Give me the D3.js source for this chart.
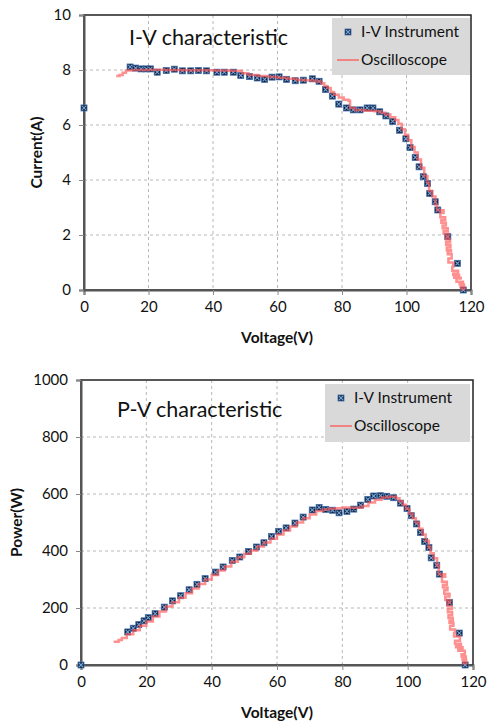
<!DOCTYPE html>
<html><head><meta charset="utf-8">
<script src="https://cdn.jsdelivr.net/npm/d3@7"></script>
<style>body{margin:0;background:#fff}svg{display:block;font-family:Lato,"Open Sans",sans-serif}</style>
</head><body><svg id="c" width="487" height="725"></svg>
<script>
// ---------- data ----------
const xTicks = [0, 20, 40, 60, 80, 100, 120];
const iTicks = [0, 2, 4, 6, 8, 10];
const pTicks = [0, 200, 400, 600, 800, 1000];

// I-V Instrument (markers)
const instV = [0, 14.3, 16.0, 17.7, 19.3, 20.6, 22.7, 25.5, 28.0, 30.5, 33.1, 35.5, 38.0, 41.2, 43.5, 46.3, 48.6, 51.3, 53.7, 56.0, 58.3, 60.5, 62.8, 65.5, 68.0, 70.8, 72.9, 74.9, 77.0, 79.0, 81.4, 83.5, 85.6, 87.8, 89.6, 91.7, 93.6, 95.7, 97.8, 99.8, 101.1, 102.7, 103.9, 105.2, 106.5, 107.2, 108.9, 109.7, 112.8, 115.8, 117.6];
const instI = [6.62, 8.11, 8.07, 8.04, 8.04, 8.04, 7.92, 7.98, 8.03, 7.97, 7.97, 7.98, 7.97, 7.92, 7.92, 7.92, 7.80, 7.76, 7.71, 7.66, 7.74, 7.75, 7.66, 7.61, 7.63, 7.68, 7.59, 7.29, 7.05, 6.76, 6.62, 6.55, 6.55, 6.62, 6.62, 6.48, 6.33, 6.13, 5.81, 5.50, 5.18, 4.82, 4.48, 4.12, 3.87, 3.51, 3.21, 2.91, 1.94, 0.97, 0.0];
const instP = [0, 116, 129, 142, 155, 166, 180, 203, 225, 243, 264, 283, 303, 326, 344, 367, 379, 398, 414, 429, 451, 469, 481, 498, 519, 544, 553, 546, 543, 534, 539, 547, 561, 581, 593, 594, 592, 587, 568, 549, 524, 495, 465, 433, 412, 376, 350, 319, 219, 112, 0];

// Oscilloscope (line), I-V
const oscV = [10, 11, 12, 13, 15, 20, 25, 30, 35, 40, 45, 48, 49, 51, 54, 57, 60, 63, 66, 69, 72, 73.5, 74.5, 75.5, 76.5, 77.5, 79, 80.5, 82, 82.5, 84, 87, 90, 92, 93.5, 95, 96.5, 97.5, 98.5, 99.5, 100.5, 101.5, 102.5, 103.5, 104.5, 105.5, 106.5, 107, 108, 109, 109.5, 111.5, 110.5, 112, 110.8, 112.2, 111.2, 112.8, 111.5, 113, 112.2, 113.5, 112.3, 113.6, 112.5, 113.8, 112.8, 114, 113, 114.5, 114.2, 116, 114.5, 116.3, 114.8, 116.8, 115.5, 117.5, 116.5, 117.8, 116.8, 117.9, 117, 118, 117.2, 118];
const oscI = [7.78, 7.82, 7.9, 7.98, 8.0, 8.01, 8.0, 7.99, 7.99, 7.98, 7.97, 7.96, 7.88, 7.82, 7.78, 7.75, 7.72, 7.68, 7.64, 7.62, 7.58, 7.52, 7.42, 7.35, 7.2, 7.1, 7.0, 6.92, 6.88, 6.62, 6.55, 6.52, 6.5, 6.45, 6.38, 6.28, 6.18, 6.05, 5.85, 5.65, 5.45, 5.2, 5.0, 4.75, 4.45, 4.15, 3.9, 3.6, 3.4, 3.1, 2.9, 2.8, 2.65, 2.55, 2.45, 2.35, 2.25, 2.15, 2.05, 1.95, 1.85, 1.75, 1.65, 1.55, 1.45, 1.4, 1.3, 1.15, 1.0, 0.85, 0.7, 0.6, 0.55, 0.5, 0.45, 0.42, 0.3, 0.25, 0.2, 0.15, 0.12, 0.1, 0.07, 0.05, 0.03, 0.02];
// Oscilloscope (line), P-V
const oscPV = [10, 11.5, 12.5, 14, 16, 18, 20, 22, 24, 26, 28, 30, 32, 34, 36, 38, 40, 42, 44, 46, 48, 50, 52, 54, 56, 58, 60, 62, 64, 66, 68, 70, 72, 74, 76, 78, 80, 82, 84, 86, 88, 90, 92, 94, 95.5, 96.5, 97.5, 98.5, 99.5, 100.5, 101.5, 102.5, 103.5, 104.5, 105.5, 106.5, 107, 108, 109, 109.5, 111.5, 110.5, 112, 110.8, 112.2, 111.2, 112.8, 111.5, 113, 112.2, 113.5, 112.3, 113.6, 112.5, 113.8, 112.8, 114, 113, 114.5, 114.2, 116, 114.5, 116.3, 114.8, 116.8, 115.5, 117.5, 116.5, 117.8, 116.8, 117.9, 117, 118, 117.2, 118];
const oscP = [82, 88, 95, 108, 122, 138, 153, 170, 188, 205, 220, 236, 252, 268, 284, 300, 316, 332, 346, 362, 378, 390, 402, 416, 430, 443, 458, 472, 486, 500, 515, 528, 540, 546, 548, 550, 553, 552, 552, 558, 570, 580, 588, 590, 590, 585, 575, 562, 548, 532, 515, 500, 478, 458, 436, 412, 392, 375, 350, 318, 310, 292, 282, 272, 262, 250, 240, 228, 218, 206, 196, 185, 175, 165, 155, 148, 138, 125, 112, 100, 85, 75, 68, 62, 55, 50, 38, 30, 24, 18, 14, 10, 7, 5, 3, 2];

const legendLabels = ["I-V Instrument", "Oscilloscope"];

// ---------- drawing ----------
const svg = d3.select("#c");
const LINE_COLOR = "rgba(255,85,85,0.65)";

function drawMarker(g, x, y) {
  const s = 3;
  const m = g.append("g").attr("transform", `translate(${x},${y})`);
  m.append("rect").attr("x", -s).attr("y", -s).attr("width", 2 * s).attr("height", 2 * s)
    .attr("fill", "#161c30").attr("stroke", "#3f6fb0").attr("stroke-width", 0.8);
  m.append("path").attr("d", `M${-s + 1},${-s + 1}L${s - 1},${s - 1}M${s - 1},${-s + 1}L${-s + 1},${s - 1}`)
    .attr("stroke", "#6fa8e0").attr("stroke-width", 1.1);
}

function drawChart(cfg) {
  const x = d3.scaleLinear().domain([0, 120]).range([cfg.left, cfg.right]);
  const y = d3.scaleLinear().domain(cfg.yDomain).range([cfg.bottom, cfg.top]);
  const g = svg.append("g");

  // grid
  g.append("g").selectAll("line").data(xTicks.slice(1, -1)).join("line")
    .attr("x1", d => x(d)).attr("x2", d => x(d)).attr("y1", cfg.top).attr("y2", cfg.bottom)
    .attr("stroke", "#b8b8b8").attr("stroke-dasharray", "3,3").attr("stroke-width", 1);
  g.append("g").selectAll("line").data(cfg.yTicks.slice(1, -1)).join("line")
    .attr("y1", d => y(d)).attr("y2", d => y(d)).attr("x1", cfg.left).attr("x2", cfg.right)
    .attr("stroke", "#b8b8b8").attr("stroke-dasharray", "3,3").attr("stroke-width", 1);

  // frame
  g.append("rect").attr("x", cfg.left).attr("y", cfg.top)
    .attr("width", cfg.right - cfg.left).attr("height", cfg.bottom - cfg.top)
    .attr("fill", "none").attr("stroke", "#222").attr("stroke-width", 1.5);

  // axes
  const xa = g.append("g").attr("transform", `translate(0,${cfg.bottom})`)
    .call(d3.axisBottom(x).tickValues(xTicks).tickSize(5).tickPadding(6).tickFormat(d3.format("d")));
  const ya = g.append("g").attr("transform", `translate(${cfg.left},0)`)
    .call(d3.axisLeft(y).tickValues(cfg.yTicks).tickSize(5).tickPadding(8).tickFormat(d3.format("d")));
  [xa, ya].forEach(a => {
    a.select(".domain").attr("stroke", "#555").attr("stroke-width", 2);
    a.selectAll(".tick line").attr("stroke", "#888").attr("stroke-width", 1);
    a.selectAll(".tick text").attr("font-size", 15).attr("fill", "#111").attr("font-family", "Lato");
  });

  // markers
  const mg = g.append("g");
  cfg.mx.forEach((v, i) => drawMarker(mg, x(v), y(cfg.my[i])));

  // oscilloscope line
  const pts = cfg.lx.map((v, i) => [v, cfg.ly[i]]);
  g.append("path").datum(pts)
    .attr("d", d3.line().x(d => x(d[0])).y(d => y(d[1])).curve(d3.curveStepAfter))
    .attr("fill", "none").attr("stroke", LINE_COLOR).attr("stroke-width", 2.5)
    .attr("stroke-linejoin", "miter");

  // title
  g.append("text").attr("x", cfg.titleX).attr("y", cfg.titleY).text(cfg.title)
    .attr("font-size", 21.5).attr("fill", "#111");

  // legend
  const L = cfg.legend;
  g.append("rect").attr("x", L.x).attr("y", L.y).attr("width", L.w).attr("height", L.h).attr("fill", "#d9d9d9");
  drawMarker(g, L.x + 16, L.y + 14);
  g.append("text").attr("x", L.x + 29).attr("y", L.y + 14).attr("dy", "0.35em").text(legendLabels[0])
    .attr("font-size", 15.5).attr("fill", "#111");
  g.append("line").attr("x1", L.x + 5).attr("x2", L.x + 27).attr("y1", L.y + 42).attr("y2", L.y + 42)
    .attr("stroke", LINE_COLOR).attr("stroke-width", 2);
  g.append("text").attr("x", L.x + 29).attr("y", L.y + 42).attr("dy", "0.35em").text(legendLabels[1])
    .attr("font-size", 15.5).attr("fill", "#111");

  // axis titles
  g.append("text").attr("x", 277).attr("y", cfg.xLabelY).attr("text-anchor", "middle").attr("dy", "0.35em")
    .text("Voltage(V)").attr("font-size", 15.5).attr("font-weight", "bold").attr("fill", "#111");
  g.append("text").attr("transform", `translate(${cfg.yLabelX},${(cfg.top + cfg.bottom) / 2}) rotate(-90)`)
    .attr("text-anchor", "middle").attr("dy", "0.35em")
    .text(cfg.yLabel).attr("font-size", 15.5).attr("font-weight", "bold").attr("fill", "#111");
}

drawChart({
  left: 84, right: 471, top: 15, bottom: 290, yDomain: [0, 10], yTicks: iTicks,
  mx: instV, my: instI, lx: oscV, ly: oscI,
  title: "I-V characteristic", titleX: 129, titleY: 45,
  legend: { x: 332, y: 18, w: 138, h: 57 },
  xLabelY: 338, yLabel: "Current(A)", yLabelX: 37
});
drawChart({
  left: 81, right: 473, top: 380, bottom: 665, yDomain: [0, 1000], yTicks: pTicks,
  mx: instV, my: instP, lx: oscPV, ly: oscP,
  title: "P-V characteristic", titleX: 117, titleY: 417,
  legend: { x: 325, y: 384, w: 145, h: 58 },
  xLabelY: 713, yLabel: "Power(W)", yLabelX: 17
});
</script></body></html>
